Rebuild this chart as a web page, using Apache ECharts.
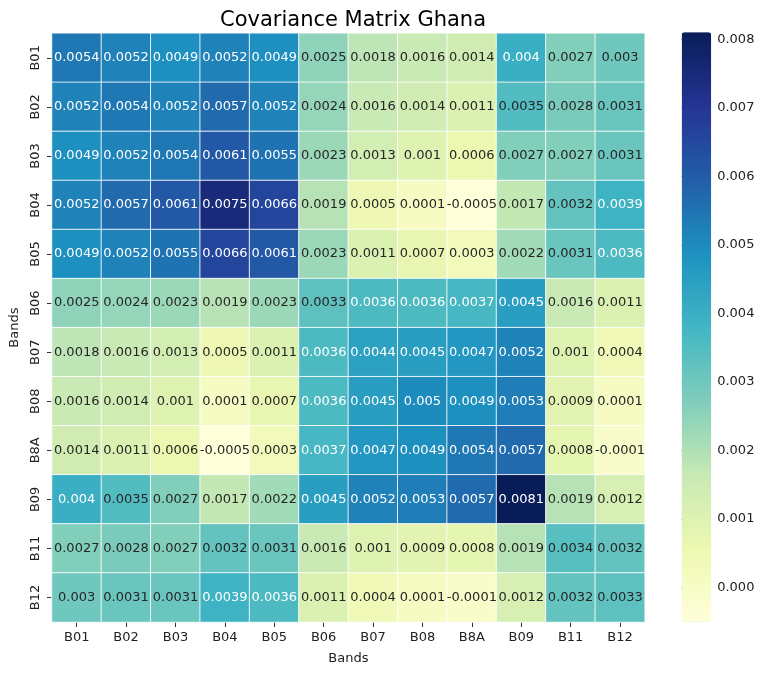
<!DOCTYPE html>
<html>
<head>
<meta charset="utf-8">
<script src="https://cdn.jsdelivr.net/npm/echarts@6/dist/echarts.min.js"></script>
<style>html,body{margin:0;padding:0;background:#fff}#c{width:768px;height:673px}</style>
</head>
<body>
<div id="c"></div>
<script>
var bands = ['B01','B02','B03','B04','B05','B06','B07','B08','B8A','B09','B11','B12'];
var rowB01 = [0.0054,0.0052,0.0049,0.0052,0.0049,0.0025,0.0018,0.0016,0.0014,0.004,0.0027,0.003];
var rowB02 = [0.0052,0.0054,0.0052,0.0057,0.0052,0.0024,0.0016,0.0014,0.0011,0.0035,0.0028,0.0031];
var rowB03 = [0.0049,0.0052,0.0054,0.0061,0.0055,0.0023,0.0013,0.001,0.0006,0.0027,0.0027,0.0031];
var rowB04 = [0.0052,0.0057,0.0061,0.0075,0.0066,0.0019,0.0005,0.0001,-0.0005,0.0017,0.0032,0.0039];
var rowB05 = [0.0049,0.0052,0.0055,0.0066,0.0061,0.0023,0.0011,0.0007,0.0003,0.0022,0.0031,0.0036];
var rowB06 = [0.0025,0.0024,0.0023,0.0019,0.0023,0.0033,0.0036,0.0036,0.0037,0.0045,0.0016,0.0011];
var rowB07 = [0.0018,0.0016,0.0013,0.0005,0.0011,0.0036,0.0044,0.0045,0.0047,0.0052,0.001,0.0004];
var rowB08 = [0.0016,0.0014,0.001,0.0001,0.0007,0.0036,0.0045,0.005,0.0049,0.0053,0.0009,0.0001];
var rowB8A = [0.0014,0.0011,0.0006,-0.0005,0.0003,0.0037,0.0047,0.0049,0.0054,0.0057,0.0008,-0.0001];
var rowB09 = [0.004,0.0035,0.0027,0.0017,0.0022,0.0045,0.0052,0.0053,0.0057,0.0081,0.0019,0.0012];
var rowB11 = [0.0027,0.0028,0.0027,0.0032,0.0031,0.0016,0.001,0.0009,0.0008,0.0019,0.0034,0.0032];
var rowB12 = [0.003,0.0031,0.0031,0.0039,0.0036,0.0011,0.0004,0.0001,-0.0001,0.0012,0.0032,0.0033];
var colorbarTicks = [0,0.001,0.002,0.003,0.004,0.005,0.006,0.007,0.008];
var vMin = -0.0005, vMax = 0.0081;

var rows = [rowB01,rowB02,rowB03,rowB04,rowB05,rowB06,rowB07,rowB08,rowB8A,rowB09,rowB11,rowB12];
var data = [];
rows.forEach(function(r, yi){
  r.forEach(function(v, xi){
    data.push({value:[xi, yi, v], label:{color: v >= 0.00355 ? '#ffffff' : '#262626'}});
  });
});
var FONT = 'DejaVu Sans';
var chart = echarts.init(document.getElementById('c'), null, {renderer:'canvas'});
chart.setOption({
  animation:false,
  backgroundColor:'#ffffff',
  title:{text:'Covariance Matrix Ghana', left:348, top:5, textAlign:'center',
    textStyle:{fontFamily:FONT, fontSize:21, fontWeight:'normal', color:'#000'}},
  grid:[
    {left:51.7, top:33.3, width:593, height:588.7},
    {left:681.7, top:32.3, width:29.5, height:589.4}
  ],
  xAxis:[
    {type:'category', data:bands, gridIndex:0, position:'bottom',
      axisLine:{show:false}, axisTick:{show:true, alignWithLabel:true, length:5, lineStyle:{color:'#333'}},
      axisLabel:{fontFamily:FONT, fontSize:13, color:'#222', margin:9},
      splitArea:{show:false}, splitLine:{show:false},
      name:'Bands', nameLocation:'middle', nameGap:30, nameTextStyle:{fontFamily:FONT, fontSize:13, color:'#222'}},
    {type:'value', gridIndex:1, show:false, min:0, max:1}
  ],
  yAxis:[
    {type:'category', data:bands, gridIndex:0, inverse:true,
      axisLine:{show:false}, axisTick:{show:true, alignWithLabel:true, length:5, lineStyle:{color:'#333'}},
      axisLabel:{fontFamily:FONT, fontSize:13, color:'#222', rotate:90, margin:10},
      splitArea:{show:false}, splitLine:{show:false},
      name:'Bands', nameLocation:'middle', nameGap:31, nameRotate:90, nameTextStyle:{fontFamily:FONT, fontSize:13, color:'#222'}},
    {type:'value', gridIndex:1, position:'right', min:vMin, max:vMax,
      axisLine:{show:false}, splitLine:{show:false},
      axisTick:{show:true, length:4, customValues:colorbarTicks, lineStyle:{color:'#333'}},
      axisLabel:{fontFamily:FONT, fontSize:13, color:'#222', margin:6, customValues:colorbarTicks,
        formatter:function(v){return v.toFixed(3);}}}
  ],
  visualMap:{
    type:'continuous', min:vMin, max:vMax, seriesIndex:0, calculable:false, hoverLink:false,
    orient:'vertical', left:681.7, top:32.3, itemWidth:29.5, itemHeight:589.4, padding:0,
    showLabel:false, text:null,
    inRange:{color:['#ffffd9','#edf8b1','#c7e9b4','#7fcdbb','#41b6c4','#1d91c0','#225ea8','#253494','#081d58']}
  },
  series:[{
    type:'heatmap', xAxisIndex:0, yAxisIndex:0, data:data,
    itemStyle:{borderColor:'rgba(255,255,255,0.85)', borderWidth:1},
    label:{show:true, fontFamily:FONT, fontSize:13, formatter:function(p){return String(p.value[2]);}},
    emphasis:{disabled:true}
  }]
});
</script>
</body>
</html>
